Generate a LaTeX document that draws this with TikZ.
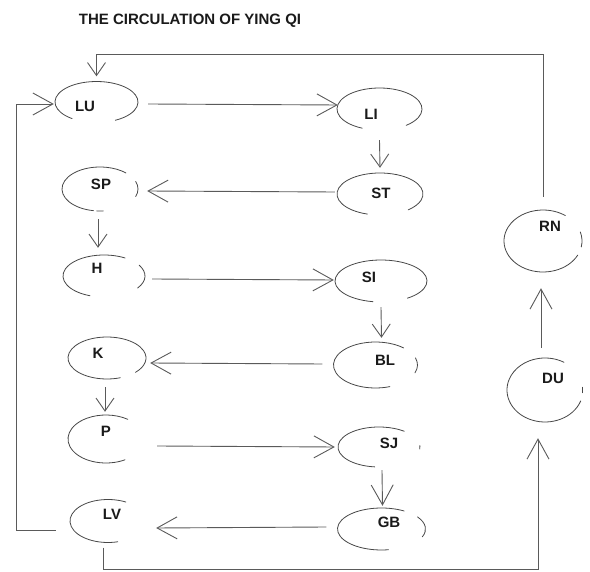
\documentclass[tikz,border=0pt]{standalone}
\usepackage{fontspec}
\setmainfont{Liberation Sans}
\usetikzlibrary{calc,arrows.meta,shapes.geometric}
\definecolor{ink}{HTML}{1A1A1A}
\definecolor{linegray}{HTML}{5A5A5A}
\definecolor{rimgray}{HTML}{474747}
\tikzset{
  organ/.style 2 args={ellipse, minimum width=#1, minimum height=#2, inner sep=0pt},
  rim/.style={draw=rimgray, line width=0.8pt, line cap=round},
  tag/.style={text=ink, font=\bfseries\fontsize{15}{17}\selectfont, inner sep=0pt},
  heading/.style={text=ink, font=\bfseries\fontsize{15}{17}\selectfont, inner sep=0pt},
  wire/.style={draw=linegray, line width=0.9pt},
  flow/.style={wire, -{Straight Barb[length=20pt,width=22pt]}},
  drop/.style={wire, -{Straight Barb[length=13pt,width=18pt]}},
}

\begin{document}
\begin{tikzpicture}[x=1pt, y=-1pt]
\useasboundingbox (0,0) rectangle (590,572);

\node[heading] (title) at (190,21) {THE CIRCULATION OF YING QI};

% left column
\node[organ={83pt}{41pt}, label={[tag,xshift=-11.5pt,yshift=-4pt]center:LU}] (LU) at (96.5,102) {};
\draw[rim] (LU.center) ++(126:41.5 and 20.5) arc[start angle=126, end angle=423, x radius=41.5, y radius=20.5];

\node[organ={76pt}{44pt}, label={[tag,xshift=1pt,yshift=5pt]center:SP}] (SP) at (100,189) {};
\draw[rim] (SP.center) ++(100:38 and 22) arc[start angle=100, end angle=313, x radius=38, y radius=22];
\draw[rim] (SP.center) ++(-20:38 and 22) arc[start angle=-20, end angle=20, x radius=38, y radius=22];
\draw[rim] (SP.center) ++(85:38 and 22) arc[start angle=85, end angle=95, x radius=38, y radius=22];

\node[organ={82pt}{42pt}, label={[tag,xshift=-7pt,yshift=8pt]center:H}] (H) at (104,276) {};
\draw[rim] (H.center) ++(110:41 and 21) arc[start angle=110, end angle=301, x radius=41, y radius=21];
\draw[rim] (H.center) ++(-31:41 and 21) arc[start angle=-31, end angle=35, x radius=41, y radius=21];

\node[organ={78pt}{42pt}, label={[tag,xshift=-9pt,yshift=5pt]center:K}] (K) at (107,358) {};
\draw[rim] (K.center) ++(70:39 and 21) arc[start angle=70, end angle=403, x radius=39, y radius=21];

\node[organ={76pt}{48pt}, label={[tag,yshift=8pt]center:P}] (P) at (106,439) {};
\draw[rim] (P.center) ++(60:38 and 24) arc[start angle=60, end angle=305, x radius=38, y radius=24];

\node[organ={76pt}{43pt}, label={[tag,xshift=4pt,yshift=7pt]center:LV}] (LV) at (108,521) {};
\draw[rim] (LV.center) ++(75:38 and 21.5) arc[start angle=75, end angle=298, x radius=38, y radius=21.5];

% right column
\node[organ={85pt}{42pt}, label={[tag,xshift=-8.5pt,yshift=-5pt]center:LI}] (LI) at (379.5,109) {};
\draw[rim] (LI.center) ++(114:42.5 and 21) arc[start angle=114, end angle=411, x radius=42.5, y radius=21];

\node[organ={86pt}{42pt}, label={[tag,xshift=1pt,yshift=1pt]center:ST}] (ST) at (380,194) {};
\draw[rim] (ST.center) ++(107:43 and 21) arc[start angle=107, end angle=409, x radius=43, y radius=21];

\node[organ={92pt}{42pt}, label={[tag,xshift=-12pt,yshift=4pt]center:SI}] (SI) at (381,281) {};
\draw[rim] (SI.center) ++(100:46 and 21) arc[start angle=100, end angle=415, x radius=46, y radius=21];

\node[organ={84pt}{46pt}, label={[tag,xshift=9.5pt,yshift=5pt]center:BL}] (BL) at (375.5,365) {};
\draw[rim] (BL.center) ++(70:42 and 23) arc[start angle=70, end angle=312, x radius=42, y radius=23];
\draw[rim] (BL.center) ++(-18:42 and 23) arc[start angle=-18, end angle=20, x radius=42, y radius=23];

\node[organ={82pt}{40pt}, label={[tag,xshift=10pt,yshift=4pt]center:SJ}] (SJ) at (379,447) {};
\draw[rim] (SJ.center) ++(96:41 and 20) arc[start angle=96, end angle=308, x radius=41, y radius=20];
\draw[rim] (SJ.center) ++(-4:41 and 20) arc[start angle=-4, end angle=6, x radius=41, y radius=20];

\node[organ={88pt}{42pt}, label={[tag,xshift=7.5pt,yshift=7pt]center:GB}] (GB) at (381.5,529) {};
\draw[rim] (GB.center) ++(81:44 and 21) arc[start angle=81, end angle=301, x radius=44, y radius=21];
\draw[rim] (GB.center) ++(-35:44 and 21) arc[start angle=-35, end angle=22, x radius=44, y radius=21];

% extra vessels
\node[organ={78pt}{62pt}, label={[tag,xshift=7pt,yshift=15pt]center:RN}] (RN) at (543,241) {};
\draw[rim] (RN.center) ++(27:39 and 31) arc[start angle=27, end angle=305, x radius=39, y radius=31];
\draw[rim] (RN.center) ++(-17:39 and 31) arc[start angle=-17, end angle=11, x radius=39, y radius=31];

\node[organ={76pt}{64pt}, label={[tag,xshift=8pt,yshift=12pt]center:DU}] (DU) at (545,390) {};
\draw[rim] (DU.center) ++(20:38 and 32) arc[start angle=20, end angle=300, x radius=38, y radius=32];
\draw[rim] (DU.center) ++(-5:38 and 32) arc[start angle=-5, end angle=5, x radius=38, y radius=32];

% the circuit
\draw[flow] ($(LU.east)+(10,2)$) -- ($(LI.west)+(1,-4)$);
\draw[drop] ($(LI.south)+(0,10)$) -- ($(ST.north)+(0,-5)$);
\draw[flow] ($(ST.west)+(-2,-2)$) -- ($(SP.east)+(9,2)$);
\draw[drop] ($(SP.south)+(-2,8)$) -- ($(H.north)+(-6,-7)$);
\draw[flow] ($(H.east)+(7,3)$) -- ($(SI.west)+(-1,-1)$);
\draw[drop] ($(SI.south)+(0,5)$) -- ($(BL.north)+(6,-4)$);
\draw[flow] ($(BL.west)+(-11,-1)$) -- ($(K.east)+(4,5)$);
\draw[drop] ($(K.south)+(-2,8)$) -- ($(P.north)+(-1,-3)$);
\draw[flow] ($(P.east)+(13,7)$) -- ($(SJ.west)+(-3,0)$);
\draw[flow] ($(SJ.south)+(3,3)$) -- ($(GB.north)+(1,-2)$);
\draw[flow] ($(GB.west)+(-11,-2)$) -- ($(LV.east)+(10,7)$);

% back to LU, and on through DU and RN
\draw[flow] ($(LV.west)+(-14,9)$) -- ++(-39,0) |- ($(LU.west)+(-1,2)$);
\draw[flow] ($(LV.south)+(-5,5)$) -- ++(0,22) -| ($(DU.south)+(-7,16)$);
\draw[flow] ($(DU.north)+(-4,-10)$) -- ($(RN.south)+(-2,16)$);
\draw[drop, shorten <=13pt, shorten >=5pt] (RN.north) -- ++(0,-155) -| (LU.north);
\end{tikzpicture}
\end{document}
